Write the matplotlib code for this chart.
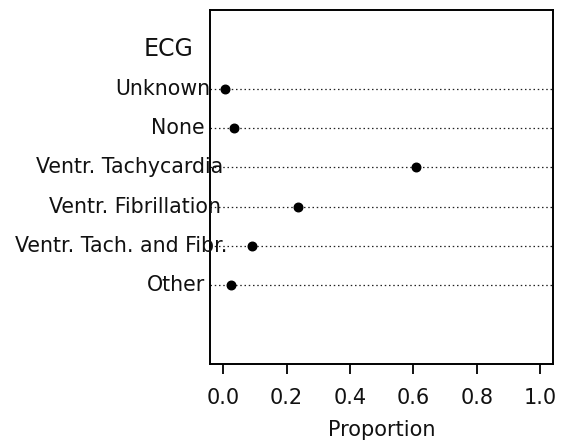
import matplotlib
matplotlib.use("Agg")
import matplotlib.pyplot as plt
import matplotlib.transforms as mtransforms
import numpy as np

categories = ["Unknown", "None", "Ventr. Tachycardia", "Ventr. Fibrillation",
              "Ventr. Tach. and Fibr.", "Other"]
proportions = [0.005, 0.035, 0.608, 0.236, 0.092, 0.024]
xticks = [0.0, 0.2, 0.4, 0.6, 0.8, 1.0]
header = "ECG"

plt.rcParams['font.family'] = 'DejaVu Sans'

fig = plt.figure(figsize=(5.61, 4.43), dpi=100)
ax = fig.add_axes([210/561, 1 - 364/443, 343/561, 354/443])

rows = np.arange(1, len(categories) + 1)

for r in rows:
    ax.axhline(r, color='#222222', lw=0.9, ls=(0, (1.2, 2.2)), zorder=1)
ax.scatter(proportions, rows, s=38, color='black', zorder=3)

ax.set_xlim(-0.042, 1.041)
ax.set_ylim(8, -1)
ax.set_yticks([])
ax.set_xticks(xticks)
ax.set_xticklabels([f"{v:.1f}" for v in xticks], fontsize=15, color='#111111')
ax.tick_params(axis='x', direction='out', length=7, width=1.3, pad=10)
ax.set_xlabel("Proportion", fontsize=15, color='#111111', labelpad=9)
for sp in ax.spines.values():
    sp.set_linewidth(1.4)

trans = ax.get_yaxis_transform()
labels = []
for r, c in zip(rows, categories):
    t = ax.text(-0.0397, r, c, transform=trans, ha='right', va='center',
                fontsize=14.8, color='#111111', clip_on=False, zorder=4)
    labels.append(t)
ax.text(-0.12, 0, header, transform=trans, ha='center', va='center',
        fontsize=17, color='#111111', clip_on=False)

# the original labels run a bit past their anchor, more so for long ones
fig.canvas.draw()
for t in labels:
    w = t.get_window_extent().width
    off = mtransforms.ScaledTranslation(0.145 * w / fig.dpi, 0, fig.dpi_scale_trans)
    t.set_transform(trans + off)

fig.savefig("out.png", dpi=100)
